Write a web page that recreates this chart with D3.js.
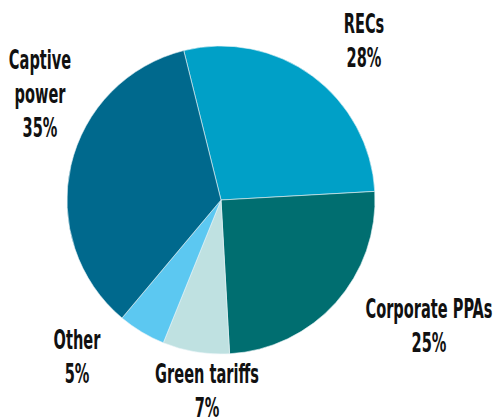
<!DOCTYPE html>
<html>
<head>
<meta charset="utf-8">
<script src="https://cdn.jsdelivr.net/npm/d3@7"></script>
<style>
  body { margin: 0; background: #fff; }
  text { font-family: "DejaVu Sans Condensed", "Liberation Sans Narrow", sans-serif; font-weight: bold; fill: #111; }
</style>
</head>
<body>
<div id="chart"></div>
<script>
var categories = ["RECs", "Corporate PPAs", "Green tariffs", "Other", "Captive power"];
var shares = [28, 25, 7, 5, 35];
var colors = ["#00a0c7", "#006e70", "#bfe1e1", "#5cc8f1", "#00698d"];
// label text lines, first line is name (may wrap), last is percent
var labelLines = [["RECs", "28%"], ["Corporate PPAs", "25%"], ["Green tariffs", "7%"], ["Other", "5%"], ["Captive", "power", "35%"]];
var labelPos = [[364, 33], [429, 318], [207, 383], [77, 349], [40, 69]];

var width = 497, height = 419, cx = 221, cy = 200, radius = 154;
var lineH = 34, fontSize = 27, squeeze = 0.6;

var svg = d3.select("#chart").append("svg")
    .attr("width", width)
    .attr("height", height);

var pie = d3.pie()
    .sort(null)
    .startAngle(-14 * Math.PI / 180)
    .endAngle(346 * Math.PI / 180)
    .value(d => d);

var arc = d3.arc().innerRadius(0).outerRadius(radius);

svg.append("g")
    .attr("transform", "translate(" + cx + "," + cy + ")")
    .selectAll("path")
    .data(pie(shares))
    .join("path")
    .attr("d", arc)
    .attr("fill", (d, i) => colors[i])
    .attr("stroke", "#e8f4f6")
    .attr("stroke-width", 0.6);

for (let i = 0; i < categories.length; i++) {
    let g = svg.append("g")
        .attr("transform", "translate(" + labelPos[i][0] + "," + labelPos[i][1] + ") scale(" + squeeze + ",1)");
    labelLines[i].forEach((t, j) =>
        g.append("text")
        .attr("x", 0)
        .attr("y", j * lineH)
        .attr("text-anchor", "middle")
        .style("font-size", fontSize + "px")
        .text(t)
    );
}
</script>
</body>
</html>
